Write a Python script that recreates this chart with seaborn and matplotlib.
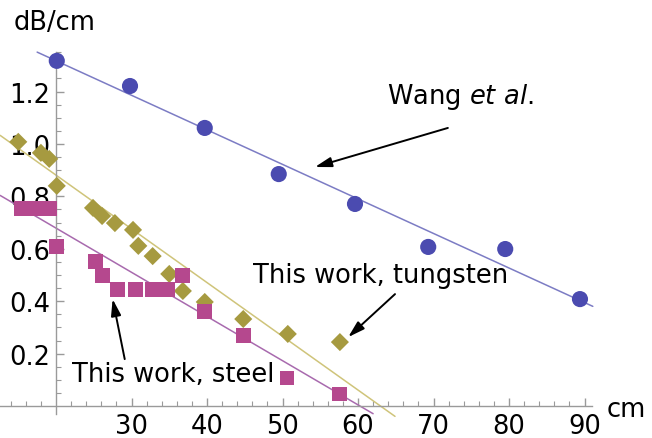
import numpy as np
import matplotlib
matplotlib.use("Agg")
import matplotlib.pyplot as plt
import seaborn as sns

#---------------------------------
# data
#---------------------------------
wang_x = [20.1, 29.8, 39.7, 49.5, 59.6, 69.3, 79.5, 89.4]
wang_y = [1.317, 1.221, 1.061, 0.885, 0.771, 0.607, 0.599, 0.408]

tungsten_x = [15.0, 18.0, 19.1, 20.1, 24.9, 26.1, 27.8, 30.2, 30.9, 32.8,
              35.0, 36.8, 39.7, 44.8, 50.7, 57.6]
tungsten_y = [1.008, 0.966, 0.943, 0.84, 0.756, 0.725, 0.698, 0.672, 0.611, 0.572,
              0.504, 0.439, 0.397, 0.332, 0.275, 0.244]

steel_x = [15.4, 17.2, 19.1, 20.1, 25.2, 26.1, 28.2, 30.5, 32.8, 34.8,
           36.8, 39.7, 44.8, 50.6, 57.6]
steel_y = [0.752, 0.752, 0.752, 0.61, 0.553, 0.497, 0.443, 0.443, 0.443, 0.443,
           0.497, 0.36, 0.27, 0.107, 0.046]

# straight line fits: (intercept, slope) and x extent
wang_fit = [1.581, -0.01318]
tungsten_fit = [1.291, -0.0205]
steel_fit = [1.016, -0.01686]
wang_span = [17.5, 91.1]
tungsten_span = [12.6, 64.9]
steel_span = [12.6, 62.0]

x_ticks = [30, 40, 50, 60, 70, 80, 90]
y_ticks = [0.2, 0.4, 0.6, 0.8, 1.0, 1.2]

#---------------------------------
# style
#---------------------------------
sns.set_style("white")
plt.rcParams["font.family"] = ["DejaVu Sans"]
plt.rcParams["text.color"] = "black"

blue = "#4B4BB0"
blue_line = "#7C7CC4"
olive = "#A69A40"
olive_line = "#CFC47A"
pink = "#B5488E"
pink_line = "#A86AAE"
axis_gray = "#9A9A9A"
fs = 18.5

fig = plt.figure(figsize=(6.52, 4.39), dpi=100)
ax = fig.add_axes([0, 0, 1, 1])
ax.set_xlim(12.58, 98.94)
ax.set_ylim(-0.122, 1.553)

#---------------------------------
# fit lines
#---------------------------------
for fit, span, col in [(wang_fit, wang_span, blue_line),
                       (tungsten_fit, tungsten_span, olive_line),
                       (steel_fit, steel_span, pink_line)]:
    xs = np.array(span)
    sns.lineplot(x=xs, y=fit[0] + fit[1] * xs, color=col, lw=1.1, ax=ax)

#---------------------------------
# points
#---------------------------------
sns.scatterplot(x=wang_x, y=wang_y, marker="o", s=135, color=blue,
                edgecolor="none", linewidth=0, zorder=3, ax=ax)
sns.scatterplot(x=tungsten_x, y=tungsten_y, marker="D", s=85, color=olive,
                edgecolor="none", linewidth=0, zorder=3, ax=ax)
sns.scatterplot(x=steel_x, y=steel_y, marker="s", s=115, color=pink,
                edgecolor="none", linewidth=0, zorder=3, ax=ax)

#---------------------------------
# axes through origin (Mathematica look)
#---------------------------------
for side in ["top", "right"]:
    ax.spines[side].set_visible(False)
ax.spines["left"].set_position(("data", 20))
ax.spines["bottom"].set_position(("data", 0))
ax.spines["left"].set_bounds(-0.03, 1.35)
ax.spines["bottom"].set_bounds(12.58, 91)
for side in ["left", "bottom"]:
    ax.spines[side].set_color(axis_gray)
    ax.spines[side].set_linewidth(1.0)

ax.set_xticks(x_ticks)
ax.set_xticklabels([str(t) for t in x_ticks])
ax.set_xticks([t for t in np.arange(14, 92, 2) if t % 10 != 0], minor=True)
ax.set_yticks(y_ticks)
ax.set_yticklabels([f"{t:.1f}" for t in y_ticks])
ax.set_yticks([t for t in np.arange(0.05, 1.36, 0.05)
               if abs(t * 5 - round(t * 5)) > 1e-6], minor=True)

ax.tick_params(which="both", direction="in", color=axis_gray,
               bottom=True, left=True, labelsize=fs, labelcolor="black")
ax.tick_params(which="major", length=6, width=1)
ax.tick_params(which="minor", length=3.5, width=0.8)
ax.tick_params(axis="y", pad=4)
ax.tick_params(axis="x", pad=5)

#---------------------------------
# labels and arrows
#---------------------------------
fig.text(14 / 652, 1 - 23 / 439, "dB/cm", fontsize=fs, va="center", ha="left")
fig.text(607 / 652, 1 - 410 / 439, "cm", fontsize=fs, va="center", ha="left")

arrow = dict(arrowstyle="-|>,head_length=1.0,head_width=0.3",
             color="black", lw=1.4, shrinkA=0, shrinkB=0)
ax.text(63.8, 1.183, r"Wang $\it{et\ al.}$", fontsize=fs, va="center", ha="left")
ax.annotate("", xy=(54.3, 0.912), xytext=(71.9, 1.061), arrowprops=arrow)

ax.text(46.1, 0.50, "This work, tungsten", fontsize=fs, va="center", ha="left")
ax.annotate("", xy=(58.7, 0.263), xytext=(64.9, 0.427), arrowprops=arrow)

ax.text(22.1, 0.122, "This work, steel", fontsize=fs, va="center", ha="left")
ax.annotate("", xy=(27.5, 0.408), xytext=(29.1, 0.179), arrowprops=arrow)

fig.savefig("out.png", dpi=100)
